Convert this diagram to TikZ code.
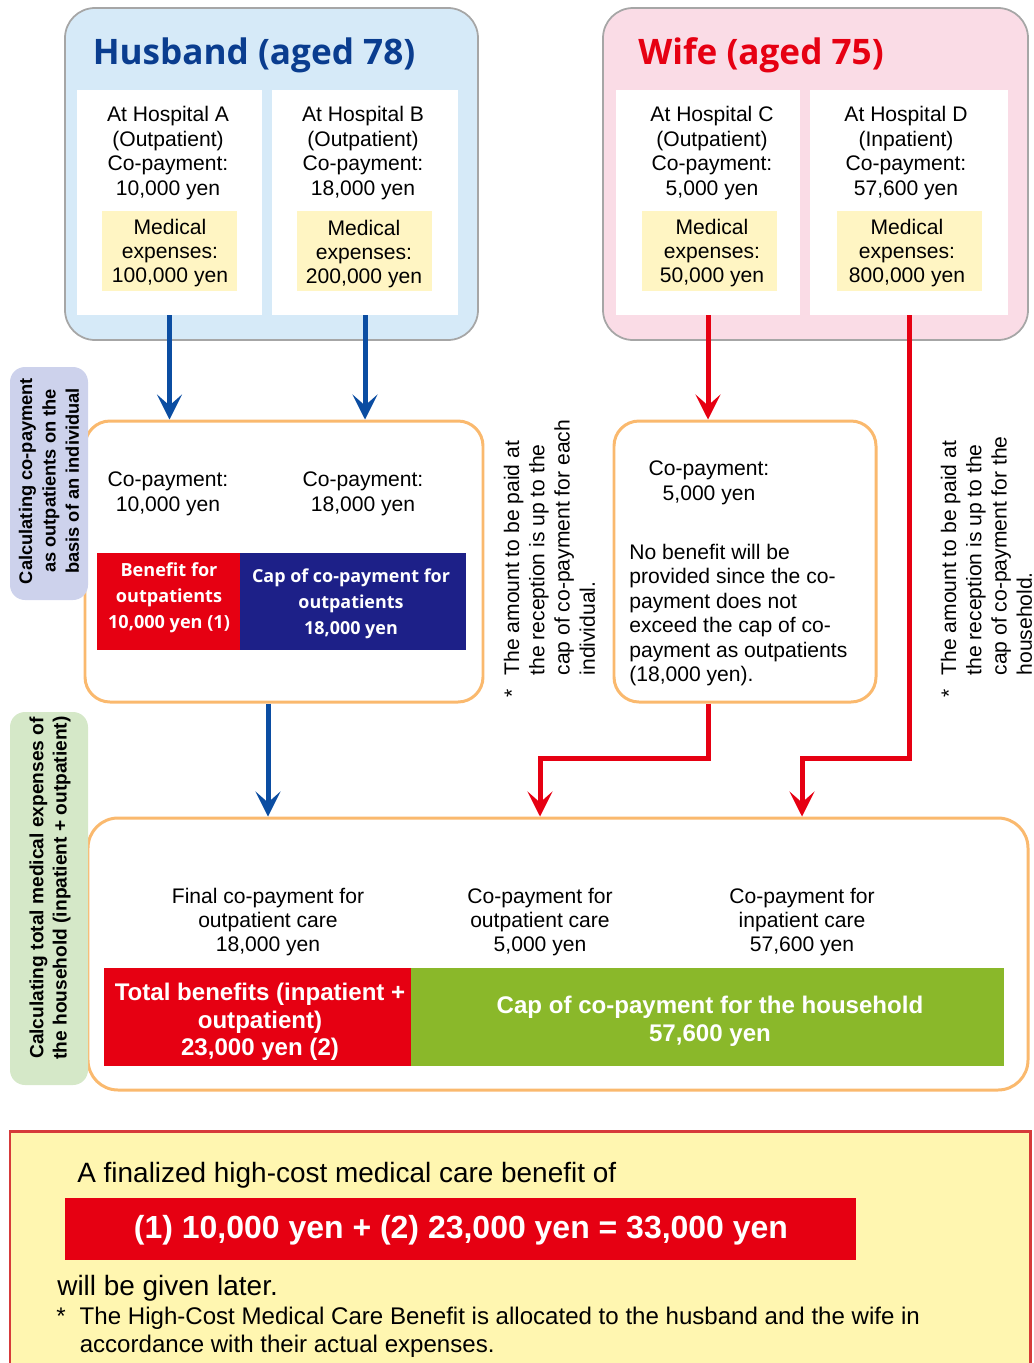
\documentclass[tikz,border=0pt]{standalone}
\usepackage{fontspec}
\setmainfont{Liberation Sans}
\newfontfamily\headfont{Open Sans}
\usetikzlibrary{arrows.meta,positioning,fit}

\definecolor{HusBlue}{HTML}{0A3D8F}
\definecolor{HusBg}{HTML}{D6EAF8}
\definecolor{WifeBg}{HTML}{FADCE6}
\definecolor{WifeRed}{HTML}{E60012}
\definecolor{MedYellow}{HTML}{FFF5C3}
\definecolor{CalcOrange}{HTML}{FAB96E}
\definecolor{ArrBlue}{HTML}{0B4DA2}
\definecolor{CapNavy}{HTML}{1D2088}
\definecolor{CapGreen}{HTML}{8AB82A}
\definecolor{SideLilac}{HTML}{CDD2EC}
\definecolor{SideGreen}{HTML}{D5E8C8}
\definecolor{ResYellow}{HTML}{FFF6B0}
\definecolor{ResRed}{HTML}{D63A3A}

\newcommand\bodysize{\fontsize{12}{13.9}\selectfont}

\begin{document}
\begin{tikzpicture}[x=0.02cm,y=-0.02cm,
  person/.style={draw=gray!70,line width=1pt,rounded corners=0.6cm,inner sep=0pt},
  headline/.style={font=\headfont\bfseries\fontsize{20}{24}\selectfont},
  panel/.style={fill=white,inner sep=0pt},
  txt/.style={align=center,inner sep=0pt,font=\bodysize},
  medbox/.style={fill=MedYellow,inner sep=0pt},
  calcbox/.style={draw=CalcOrange,line width=1.7pt,fill=white,rounded corners=0.5cm,inner sep=0pt},
  band/.style={inner sep=0pt},
  bandtxt/.style={inner sep=0pt,align=center,text=white},
  sidebox/.style={rounded corners=0.3cm,inner sep=0pt},
  sidetxt/.style={rotate=90,align=center,inner sep=0pt},
  notetxt/.style={rotate=90,anchor=north west,inner sep=0pt,font=\fontsize{12}{14.4}\selectfont},
  arr/.style={line width=0.1cm,-{Stealth[length=0.5cm,width=0.5cm,inset=0.22cm]}}
]
\useasboundingbox (0,0) rectangle (1034,1363);

% husband
\node[person,fill=HusBg,fit={(65,8)(478,340)}] (husband) {};
\node[headline,text=HusBlue] (husTitle) at (254,55) {Husband (aged 78)};
\node[panel,fit={(77,90)(262,315)}] (hospA) {};
\node[panel,fit={(272,90)(458,315)}] (hospB) {};
\node[txt] (hospAtxt) at (168,153) {At Hospital A\\(Outpatient)\\Co-payment:\\10,000 yen};
\node[txt] (hospBtxt) at (363,153) {At Hospital B\\(Outpatient)\\Co-payment:\\18,000 yen};
\node[medbox,fit={(102,211)(237,291)}] (medA) {};
\node[medbox,fit={(297,211)(432,291)}] (medB) {};
\node[txt] (medAtxt) at (170,253) {Medical\\expenses:\\100,000 yen};
\node[txt] (medBtxt) at (364,254) {Medical\\expenses:\\200,000 yen};

% wife
\node[person,fill=WifeBg,fit={(603,8)(1028,340)}] (wife) {};
\node[headline,text=WifeRed] (wifeTitle) at (761,55) {Wife (aged 75)};
\node[panel,fit={(616,90)(800,315)}] (hospC) {};
\node[panel,fit={(810,90)(1008,315)}] (hospD) {};
\node[txt] (hospCtxt) at (712,153) {At Hospital C\\(Outpatient)\\Co-payment:\\5,000 yen};
\node[txt] (hospDtxt) at (906,153) {At Hospital D\\(Inpatient)\\Co-payment:\\57,600 yen};
\node[medbox,fit={(642,211)(777,291)}] (medC) {};
\node[medbox,fit={(837,211)(982,291)}] (medD) {};
\node[txt] (medCtxt) at (712,253) {Medical\\expenses:\\50,000 yen};
\node[txt] (medDtxt) at (907,253) {Medical\\expenses:\\800,000 yen};

% per person step
\node[calcbox,fit={(85,421)(483,702)}] (calcH) {};
\node[txt] (copA) at (168,494) {Co-payment:\\10,000 yen};
\node[txt] (copB) at (363,494) {Co-payment:\\18,000 yen};
\node[band,fill=WifeRed,fit={(97,553)(240,650)}] (benefit) {};
\node[band,fill=CapNavy,fit={(240,553)(466,650)}] (capOut) {};
\node[bandtxt,font=\headfont\bfseries\fontsize{10.3}{14.7}\selectfont] (benefitTxt) at (169,598) {Benefit for\\outpatients\\10,000 yen (1)};
\node[bandtxt,font=\headfont\bfseries\fontsize{10.2}{14.7}\selectfont] (capOutTxt) at (351,604) {Cap of co-payment for\\outpatients\\18,000 yen};

\node[calcbox,fit={(614,421)(876,702)}] (calcW) {};
\node[txt] (copC) at (709,483) {Co-payment:\\5,000 yen};
\node[anchor=west,align=left,inner sep=0pt,font=\bodysize] (noBenefit) at (629,615)
  {No benefit will be\\provided since the co-\\payment does not\\exceed the cap of co-\\payment as outpatients\\(18,000 yen).};

\node[notetxt] (noteInd) at (501,698) {\begin{tabular}{@{}l@{\hspace{8pt}}l@{}}*&The amount to be paid at\\&the reception is up to the\\&cap of co-payment for each\\&individual.\end{tabular}};
\node[notetxt] (noteHouse) at (938,698) {\begin{tabular}{@{}l@{\hspace{8pt}}l@{}}*&The amount to be paid at\\&the reception is up to the\\&cap of co-payment for the\\&household.\end{tabular}};

% household step
\node[calcbox,rounded corners=0.6cm,fit={(88,818)(1028,1090)}] (house) {};
\node[txt] (finOut) at (268,922) {Final co-payment for\\outpatient care\\18,000 yen};
\node[txt] (outCare) at (540,922) {Co-payment for\\outpatient care\\5,000 yen};
\node[txt] (inCare) at (802,922) {Co-payment for\\inpatient care\\57,600 yen};
\node[band,fill=WifeRed,fit={(104,968)(411,1066)}] (totBen) {};
\node[band,fill=CapGreen,fit={(411,968)(1004,1066)}] (capHouse) {};
\node[bandtxt,font=\bfseries\fontsize{13.7}{15.6}\selectfont] (totBenTxt) at (260,1022) {Total benefits (inpatient +\\outpatient)\\23,000 yen (2)};
\node[bandtxt,font=\bfseries\fontsize{13.7}{15.9}\selectfont] (capHouseTxt) at (710,1021) {Cap of co-payment for the household\\57,600 yen};

% side labels
\node[sidebox,fill=SideLilac,fit={(10,367)(88,600)}] (sideInd) {};
\node[sidetxt,font=\bfseries\fontsize{10.4}{13.3}\selectfont] (sideIndTxt) at (49,481) {Calculating co-payment\\as outpatients on the\\basis of an individual};
\node[sidebox,fill=SideGreen,fit={(10,712)(88,1085)}] (sideHouse) {};
\node[sidetxt,font=\bfseries\fontsize{10.9}{13.3}\selectfont] (sideHouseTxt) at (50,888) {Calculating total medical expenses of\\the household (inpatient + outpatient)};

% arrows
\coordinate (jog) at (0,758);
\draw[arr,ArrBlue] (hospA.south) -- (hospA.south |- calcH.north);
\draw[arr,ArrBlue] (hospB.south) -- (hospB.south |- calcH.north);
\draw[arr,WifeRed] (hospC.south) -- (hospC.south |- calcW.north);
\draw[arr,ArrBlue] (finOut.north |- calcH.south) -- (finOut.north |- house.north);
\draw[arr,WifeRed] (hospC.south |- calcW.south) -- (hospC.south |- jog) -| (outCare.north |- house.north);
\draw[arr,WifeRed] (hospD.south) -- (hospD.south |- jog) -| (inCare.north |- house.north);

% result
\node[fill=ResYellow,draw=ResRed,line width=1.7pt,inner sep=0pt,fit={(10,1131)(1030,1372)}] (result) {};
\node[anchor=west,inner sep=0pt,font=\fontsize{15.9}{18}\selectfont] (resIntro) at (77,1175) {A finalized high-cost medical care benefit of};
\node[band,fill=WifeRed,fit={(65,1198)(856,1260)}] (resSum) {};
\node[bandtxt,font=\bfseries\fontsize{18.2}{21}\selectfont] (resSumTxt) at (461,1230) {(1) 10,000 yen + (2) 23,000 yen = 33,000 yen};
\node[anchor=west,inner sep=0pt,font=\fontsize{15.9}{18}\selectfont] (resLater) at (57,1288) {will be given later.};
\node[anchor=west,inner sep=0pt,font=\fontsize{13.7}{15.9}\selectfont] (resFoot) at (56,1333)
  {\begin{tabular}{@{}l@{\hspace{8pt}}l@{}}*&The High-Cost Medical Care Benefit is allocated to the husband and the wife in\\&accordance with their actual expenses.\end{tabular}};
\end{tikzpicture}
\end{document}
